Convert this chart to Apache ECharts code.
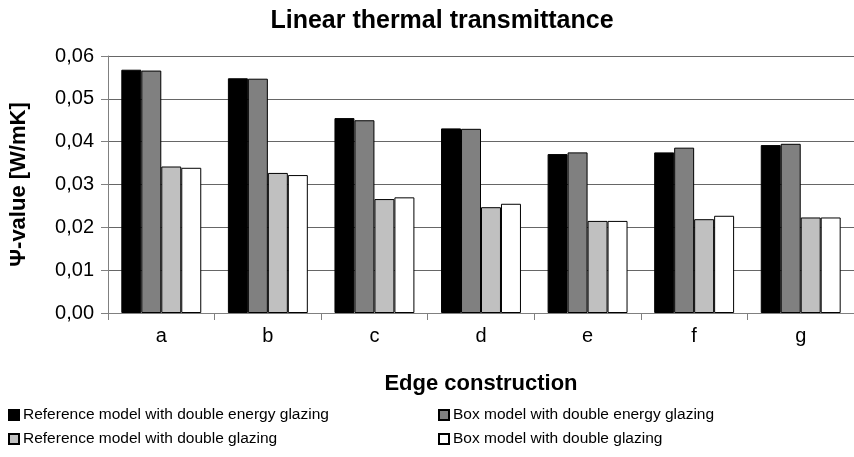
<!DOCTYPE html>
<html>
<head>
<meta charset="utf-8">
<script src="https://cdn.jsdelivr.net/npm/echarts@6/dist/echarts.min.js"></script>
<style>
  html, body { margin: 0; padding: 0; background: #fff; }
  #chart { width: 854px; height: 457px; }
</style>
</head>
<body>
<div id="chart"></div>
<script>
// edge construction types
const categories = ['a', 'b', 'c', 'd', 'e', 'f', 'g'];
const seriesNames = [
  'Reference model with double energy glazing',
  'Box model with double energy glazing',
  'Reference model with double glazing',
  'Box model with double glazing'
];
const refEnergy = [0.0568, 0.0548, 0.0455, 0.0431, 0.0371, 0.0375, 0.0392];
const boxEnergy = [0.0566, 0.0547, 0.0450, 0.0430, 0.0375, 0.0386, 0.0395];
const refDouble = [0.0342, 0.0327, 0.0266, 0.0247, 0.0215, 0.0219, 0.0223];
const boxDouble = [0.0339, 0.0322, 0.0270, 0.0255, 0.0215, 0.0227, 0.0223];
const barColors = ['#000000', '#808080', '#c0c0c0', '#ffffff'];

const font = 'Liberation Sans, Arial, sans-serif';
const myChart = echarts.init(document.getElementById('chart'));

const values = [refEnergy, boxEnergy, refDouble, boxDouble];

// one legend box per entry, laid out as 2 x 2
const legendPos = [[3, 402], [433, 402], [3, 426], [433, 426]];
const legends = seriesNames.map((name, i) => ({
  data: [name],
  left: legendPos[i][0],
  top: legendPos[i][1],
  itemWidth: 10,
  itemHeight: 10,
  icon: 'rect',
  textStyle: { fontFamily: font, fontSize: 15.5, color: '#000', padding: [0, 0, 0, -1] }
}));

const option = {
  animation: false,
  title: {
    text: 'Linear thermal transmittance',
    left: 437,
    top: 4,
    textAlign: 'center',
    textStyle: { fontFamily: font, fontSize: 25, fontWeight: 'bold', color: '#000' }
  },
  legend: legends,
  grid: { left: 107, right: 0, top: 56, bottom: 144 },
  xAxis: {
    type: 'category',
    data: categories,
    name: 'Edge construction',
    nameLocation: 'middle',
    nameGap: 60,
    nameTextStyle: { fontFamily: font, fontSize: 22, fontWeight: 'bold', color: '#000' },
    axisLine: { lineStyle: { color: '#808080', width: 1 } },
    axisTick: { show: true, length: 7, lineStyle: { color: '#808080' } },
    axisLabel: { fontFamily: font, fontSize: 20, color: '#000', margin: 13 }
  },
  yAxis: {
    type: 'value',
    min: 0,
    max: 0.06,
    interval: 0.01,
    name: 'Ψ-value [W/mK]',
    nameLocation: 'middle',
    nameGap: 78,
    nameRotate: 90,
    nameTextStyle: { fontFamily: font, fontSize: 22, fontWeight: 'bold', color: '#000' },
    axisLine: { show: true, lineStyle: { color: '#808080', width: 1 } },
    axisTick: { show: true, length: 7, lineStyle: { color: '#808080' } },
    axisLabel: {
      fontFamily: font, fontSize: 20, color: '#000', margin: 14,
      formatter: v => v.toFixed(2).replace('.', ',')
    },
    splitLine: { show: true, lineStyle: { color: '#666666', width: 1 } }
  },
  series: seriesNames.map((name, i) => ({
    name: name,
    type: 'bar',
    data: values[i],
    barGap: '0%',
    barCategoryGap: '25%',
    itemStyle: { color: barColors[i], borderColor: '#000', borderWidth: 1 }
  }))
};

myChart.setOption(option);
</script>
</body>
</html>
